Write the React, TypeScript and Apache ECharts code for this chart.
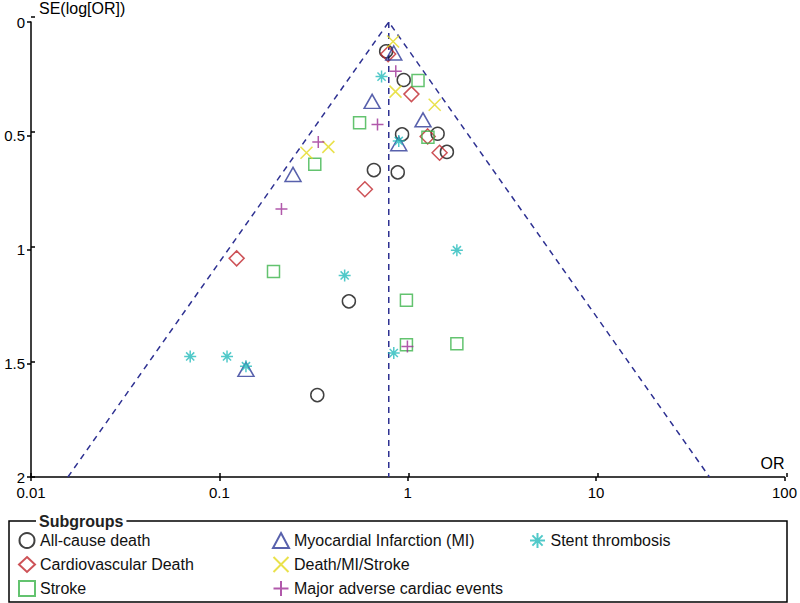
import React, { useEffect, useRef } from "react";
import * as echarts from "echarts";

// [OR, SE(log[OR])]
const allCauseDeath = [
  [0.768, 0.129], [0.952, 0.255], [0.933, 0.494], [1.441, 0.491], [1.614, 0.571],
  [0.661, 0.651], [0.885, 0.661], [0.487, 1.228], [0.331, 1.64],
];
const cardiovascularDeath = [
  [0.787, 0.141], [1.046, 0.317], [1.276, 0.503], [1.476, 0.575], [0.592, 0.735], [0.1235, 1.039],
];
const stroke = [
  [1.134, 0.257], [0.555, 0.443], [1.28, 0.507], [0.321, 0.625], [0.1938, 1.097],
  [0.984, 1.223], [0.984, 1.419], [1.823, 1.414],
];
const myocardialInfarction = [
  [0.843, 0.136], [0.647, 0.349], [1.205, 0.43], [0.896, 0.535], [0.246, 0.67], [0.1384, 1.527],
];
const deathMiStroke = [
  [0.836, 0.086], [0.861, 0.306], [1.39, 0.364], [0.29, 0.575], [0.379, 0.549],
];
const mace = [
  [0.864, 0.216], [0.691, 0.451], [0.335, 0.528], [0.2136, 0.822], [0.996, 1.426],
];
const stentThrombosis = [
  [0.726, 0.24], [0.896, 0.523], [0.4625, 1.114], [1.823, 1.003], [0.843, 1.455],
  [0.07, 1.47], [0.1098, 1.47], [0.1384, 1.513],
];
// funnel (pooled OR and 95% limits at SE = 2)
const funnelOutline = [[0.0157, 2], [0.793, 0], [39.96, 2]];
const pooledLine = [[0.793, 0], [0.793, 2]];

const xTicks = [0.01, 0.1, 1, 10, 100];
const yTicks = [0, 0.5, 1, 1.5, 2];

const FONT = "'Liberation Sans', Arial, sans-serif";

const X_PATH = "path://M0,0L10,10M10,0L0,10";
const PLUS_PATH = "path://M5,0L5,10M0,5L10,5";
const STAR_PATH = "path://M5,0L5,10M0,5L10,5M1.6,1.6L8.4,8.4M8.4,1.6L1.6,8.4";

function scatter(name: string, data: number[][], symbol: string, size: any, color: string) {
  return {
    type: "scatter",
    name,
    data,
    symbol,
    symbolSize: size,
    itemStyle: { color: "transparent", borderColor: color, borderWidth: 1.5 },
    z: 3,
  };
}

const tickStyle = { color: "#000", width: 1.5 };

export default function App() {
  const ref = useRef<HTMLDivElement>(null);
  useEffect(() => {
    if (!ref.current) return;
    const chart = echarts.init(ref.current, undefined, { renderer: "svg" });
    const gridBox = { left: 31, right: 13, top: 17, bottom: 126, containLabel: false };
    const legendBase = {
      orient: "vertical",
      top: 532,
      height: 70,
      padding: 0,
      itemWidth: 16,
      itemHeight: 15,
      itemGap: 7,
      textStyle: { fontSize: 16, color: "#111", fontFamily: FONT },
    };
    const option: any = {
      animation: false,
      textStyle: { fontFamily: FONT },
      grid: [gridBox, { ...gridBox }],
      xAxis: [
        {
          type: "log",
          gridIndex: 0,
          logBase: 10,
          min: xTicks[0],
          max: xTicks[xTicks.length - 1],
          position: "bottom",
          name: "OR",
          nameLocation: "end",
          nameGap: 0,
          nameMoveOverlap: false,
          nameTextStyle: { fontSize: 16, color: "#000", align: "right", verticalAlign: "bottom", padding: [0, 0, 6, 0] },
          axisLine: { show: true, onZero: false, lineStyle: { color: "#000", width: 1.5 } },
          axisTick: { show: true, inside: false, length: 4, lineStyle: tickStyle },
          axisLabel: {
            fontSize: 15,
            color: "#000",
            fontFamily: FONT,
            margin: 8,
            formatter: (v: number) => String(parseFloat(Number(v).toPrecision(4))),
          },
          splitLine: { show: false },
          minorTick: { show: false },
        },
        {
          type: "log",
          gridIndex: 1,
          logBase: 10,
          min: xTicks[0],
          max: xTicks[xTicks.length - 1],
          position: "bottom",
          axisLine: { show: false, onZero: false },
          axisTick: { show: true, inside: true, length: 4, lineStyle: tickStyle },
          axisLabel: { show: false },
          splitLine: { show: false },
        },
      ],
      yAxis: [
        {
          type: "value",
          gridIndex: 0,
          inverse: true,
          min: yTicks[0],
          max: yTicks[yTicks.length - 1],
          interval: 0.5,
          position: "left",
          name: "SE(log[OR])",
          nameLocation: "start",
          nameGap: 6,
          nameMoveOverlap: false,
          nameTextStyle: { fontSize: 16, color: "#000", align: "left", verticalAlign: "bottom", padding: [0, 0, 0, 8] },
          axisLine: { show: true, onZero: false, lineStyle: { color: "#000", width: 1.5 } },
          axisTick: { show: true, inside: false, length: 4, lineStyle: tickStyle },
          axisLabel: { fontSize: 15, color: "#000", fontFamily: FONT, margin: 6 },
          splitLine: { show: false },
        },
        {
          type: "value",
          gridIndex: 1,
          inverse: true,
          min: yTicks[0],
          max: yTicks[yTicks.length - 1],
          interval: 0.5,
          position: "left",
          axisLine: { show: false, onZero: false },
          axisTick: { show: true, inside: true, length: 4, lineStyle: tickStyle },
          axisLabel: { show: false },
          splitLine: { show: false },
        },
      ],
      legend: [
        { ...legendBase, left: 18, data: ["All-cause death", "Cardiovascular Death", "Stroke"] },
        {
          ...legendBase,
          left: 272,
          data: ["Myocardial Infarction (MI)", "Death/MI/Stroke", "Major adverse cardiac events"],
        },
        { ...legendBase, left: 529, data: ["Stent thrombosis"] },
      ],
      graphic: [
        {
          type: "rect",
          shape: { x: 9, y: 521, width: 778, height: 81 },
          style: { fill: "none", stroke: "#000", lineWidth: 1.5 },
          silent: true,
        },
        {
          type: "text",
          x: 36,
          y: 521,
          style: {
            text: "Subgroups",
            font: `bold 16px ${FONT}`,
            fill: "#222",
            verticalAlign: "middle",
            backgroundColor: "#fff",
            padding: [0, 3],
          },
          silent: true,
        },
      ],
      series: [
        {
          type: "line",
          name: "funnel",
          data: funnelOutline,
          symbol: "none",
          lineStyle: { color: "#2e3192", width: 1.5, type: [6, 5] },
          silent: true,
          z: 1,
        },
        {
          type: "line",
          name: "pooled",
          data: pooledLine,
          symbol: "none",
          lineStyle: { color: "#2e3192", width: 1.5, type: [6, 5] },
          silent: true,
          z: 1,
        },
        scatter("All-cause death", allCauseDeath, "circle", 13, "#111111"),
        scatter("Cardiovascular Death", cardiovascularDeath, "diamond", 15, "#c1272d"),
        scatter("Stroke", stroke, "rect", 12, "#3cb44b"),
        scatter("Myocardial Infarction (MI)", myocardialInfarction, "triangle", [16, 14], "#2e3a97"),
        scatter("Death/MI/Stroke", deathMiStroke, X_PATH, 12, "#e3d91e"),
        scatter("Major adverse cardiac events", mace, PLUS_PATH, 12, "#9e2f96"),
        scatter("Stent thrombosis", stentThrombosis, STAR_PATH, 12, "#26bcbc"),
      ],
    };
    chart.setOption(option);
    return () => chart.dispose();
  }, []);
  return (
    <div
      ref={ref}
      style={{ position: "fixed", left: 0, top: 0, width: 800, height: 603, background: "#fff" }}
    />
  );
}
